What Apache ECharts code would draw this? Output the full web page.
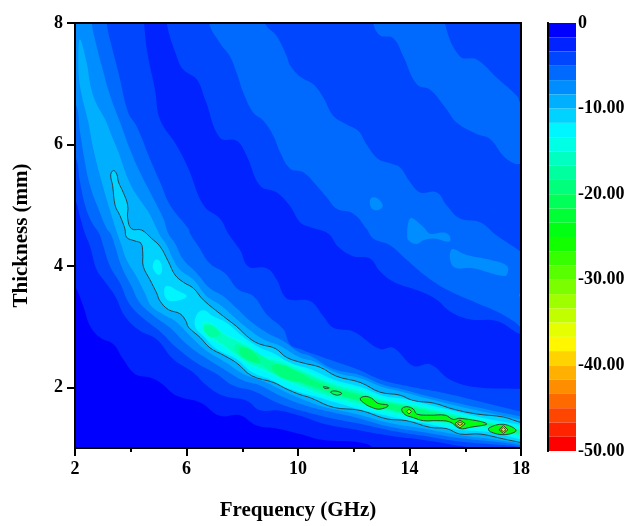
<!DOCTYPE html>
<html><head><meta charset="utf-8">
<script src="https://cdn.jsdelivr.net/npm/echarts@6/dist/echarts.min.js"></script>
<style>html,body{margin:0;padding:0;background:#fff}#c{width:638px;height:526px}</style>
</head><body><div id="c"></div>
<script>
// Contour level edges of the colour scale (dB)
const levels=[0,-1.67,-3.33,-5,-6.67,-8.33,-10,-11.67,-13.33,-15,-16.67,-18.33,-20,-21.67,-23.33,-25,-26.67,-28.33,-30,-31.67,-33.33,-35,-36.67,-38.33,-40,-41.67,-43.33,-45,-46.67,-48.33,-50];
const colorTicks=[0,-10,-20,-30,-40,-50];
const xMajor=[2,6,10,14,18];
const xMinor=[4,8,12,16];
const yMajor=[2,4,6,8];

// Contour outlines: [frequency GHz, thickness mm]
const regionBase=[[1,0],[19,0],[19,9],[1,9]];
const region0=[[2,3.66],[2.3,3.33],[2.54,3.01],[2.9,2.82],[3.38,2.71],[3.73,2.46],[4.15,2.22],[4.69,2.16],[5.05,2.08],[5.65,1.86],[6.49,1.75],[7.2,1.53],[7.92,1.54],[8.52,1.37],[9.24,1.32],[10.07,1.23],[10.91,1.13],[12.1,1.1],[12.7,1],[13.2,.6],[1.4,.4],[1.4,4]];
const region2a=[[1.4,5.4],[2,5.08],[2.18,4.81],[2.36,4.53],[2.54,4.32],[2.78,3.93],[3.02,3.77],[3.44,3.5],[3.79,3.17],[4.33,2.93],[4.93,2.79],[5.53,2.46],[6.25,2.24],[6.72,2.03],[7.32,1.86],[8.16,1.78],[8.64,1.62],[9.24,1.62],[10.07,1.53],[10.91,1.4],[12.1,1.3],[13.3,1.2],[14.5,1.13],[15.7,1.04],[16.1,1],[17,.7],[18.6,.5],[18.6,1.9],[18,1.97],[16.41,2],[15.45,2.13],[14.74,2.38],[14.14,2.35],[13.42,2.65],[12.94,2.63],[11.98,2.92],[11.27,2.98],[10.91,3.17],[10.43,3.42],[9.71,3.44],[9.48,3.52],[9.24,3.77],[8.88,3.96],[8.22,3.99],[7.92,4.26],[7.5,4.53],[7.2,4.78],[6.61,5],[6.07,5.6],[5.65,5.98],[5.05,6.41],[4.87,6.9],[4.6,7.5],[4.48,8],[4.4,8.6],[1.4,8.6]];
const region2b=[[5.2,8.6],[5.29,8],[5.65,7.45],[5.89,7.23],[6.37,7.07],[6.67,6.74],[7.2,6.11],[7.8,6.06],[8.16,5.81],[8.64,5.32],[9.24,5.21],[9.72,4.98],[10.07,4.72],[10.43,4.64],[11.09,4.53],[11.45,4.31],[11.98,4.16],[12.58,4.12],[12.94,3.91],[13.42,3.74],[14.38,3.58],[14.98,3.44],[15.45,3.25],[16.17,3.12],[17.13,3.09],[17.85,2.9],[18,2.87],[18.6,2.6],[18.6,8.6]];
const region3a=[[1.4,6.1],[2,5.81],[2.18,5.38],[2.36,5],[2.6,4.72],[2.87,4.53],[3.02,4.32],[3.26,3.99],[3.61,3.72],[3.97,3.36],[4.57,3.09],[5.05,2.92],[5.65,2.65],[6.37,2.4],[7.08,2.22],[7.68,2.03],[8.4,1.94],[9.24,1.75],[10.07,1.62],[10.91,1.52],[12.1,1.41],[13.3,1.29],[14.5,1.2],[15.7,1.11],[16.9,1.06],[18,1.01],[18.6,.9],[18.6,1.55],[18,1.6],[16.41,1.78],[15.1,1.92],[14.02,2.01],[13.06,2.11],[12.1,2.3],[10.91,2.49],[10.07,2.63],[9.71,2.71],[9.48,2.95],[8.88,3.2],[8.4,3.5],[7.86,3.61],[7.38,3.88],[6.84,4.04],[6.43,4.32],[6.13,4.53],[6.07,4.61],[5.41,5],[5.05,5.38],[4.69,5.76],[4.21,6.3],[3.91,6.52],[3.56,7.18],[3.26,7.72],[3.14,8],[3.1,8.6],[1.4,8.6]];
const region3b=[[6.7,8.6],[6.81,8],[7.2,7.67],[7.56,7.45],[7.8,7.18],[8.04,6.85],[8.4,6.52],[8.76,6.39],[9.12,6.14],[9.36,5.87],[9.72,5.6],[10.19,5.54],[10.67,5.32],[11.03,5.13],[11.39,4.94],[11.99,4.86],[12.46,4.61],[12.7,4.45],[13.3,4.34],[13.9,4.1],[14.62,3.82],[15.33,3.61],[16.41,3.39],[17.13,3.25],[17.73,3.09],[18,2.98],[18.6,2.7],[18.6,4],[18,4.23],[17.13,4.5],[16.53,4.72],[15.81,4.78],[15.33,5],[14.98,5.21],[14.38,5.21],[14.02,5.38],[13.66,5.62],[13.3,5.69],[12.88,5.76],[12.46,6],[12.17,6.22],[11.75,6.33],[11.27,6.47],[10.91,6.77],[10.55,6.99],[10.07,7.12],[9.71,7.31],[9.6,7.45],[9.24,7.78],[8.82,8],[8.7,8.6]];
const region3c=[[12.6,8.6],[12.7,8],[12.94,7.8],[13.42,7.75],[13.78,7.45],[14.26,6.99],[14.74,6.9],[15.33,6.58],[15.69,6.36],[16.41,6.17],[16.89,6.09],[17.37,5.81],[17.79,5.68],[18,5.68],[18.6,5.68],[18.6,6.4],[18,6.66],[17.85,6.8],[17.13,7.1],[16.41,7.4],[15.81,7.45],[15.27,8],[15.2,8.6]];
const patch4a=[[12.58,5.08],[12.7,5.13],[12.88,5.1],[13.04,4.99],[12.88,4.92],[12.64,4.95]];
const patch4b=[[13.96,4.72],[14.08,4.79],[14.5,4.64],[14.74,4.53],[15.21,4.55],[15.43,4.5],[15.43,4.4],[14.86,4.45],[14.5,4.42],[14.26,4.36],[13.96,4.42],[13.92,4.53]];
const patch4c=[[15.51,4.27],[16.05,4.18],[16.89,4.1],[17.49,4],[17.49,3.85],[17.25,3.84],[16.29,3.96],[15.57,3.99]];
const patch4d=[[17.93,3.52],[18.2,3.6],[18.2,3.42]];
const region4=[[1.4,6.95],[2,6.69],[2.18,6.2],[2.36,5.7],[2.54,5.32],[2.84,4.94],[3.14,4.61],[3.28,4.53],[3.44,4.32],[3.67,3.99],[4.03,3.66],[4.33,3.39],[4.93,3.14],[5.41,2.98],[6.01,2.71],[6.67,2.49],[7.44,2.27],[8.04,2.11],[8.64,2.03],[9.36,1.86],[10.07,1.73],[10.91,1.62],[12.1,1.5],[13.3,1.35],[14.5,1.26],[15.7,1.17],[16.9,1.11],[18,1.04],[18.6,.95],[18.6,1.48],[18,1.52],[16.41,1.67],[14.86,1.83],[13.78,1.96],[13.06,2.04],[12.23,2.2],[11.27,2.3],[10.43,2.52],[10.07,2.57],[9.48,2.76],[8.88,2.9],[8.28,3.09],[7.8,3.3],[7.32,3.5],[6.84,3.63],[6.37,3.88],[5.89,4.1],[5.59,4.37],[5.35,4.53],[5.17,4.78],[4.81,5.11],[4.33,5.54],[3.97,5.92],[3.67,6.3],[3.26,6.8],[2.96,7.29],[2.78,7.61],[2.6,8],[2.5,8.6],[1.4,8.6]];
const region5=[[2.18,7.73],[2.12,7.4],[2.18,6.96],[2.48,6.36],[2.66,5.92],[2.96,5.38],[3.2,5],[3.52,4.53],[3.67,4.34],[3.85,4.1],[4.21,3.82],[4.51,3.55],[4.75,3.33],[5.17,3.2],[5.59,3.09],[6.19,2.82],[6.72,2.6],[7.44,2.4],[8.04,2.22],[8.76,2.1],[9.48,1.94],[10.07,1.82],[10.91,1.68],[12.1,1.56],[13.3,1.41],[14.5,1.32],[15.7,1.22],[16.9,1.15],[18,1.07],[18.6,1],[18.6,1.43],[18,1.47],[16.41,1.62],[14.86,1.79],[13.78,1.92],[13.06,2],[12.23,2.15],[11.39,2.24],[10.55,2.43],[10.07,2.49],[9.36,2.68],[8.76,2.79],[8.16,2.98],[7.68,3.17],[7.2,3.36],[6.72,3.5],[6.25,3.77],[5.77,3.93],[5.53,4.1],[5.29,4.34],[5.05,4.5],[4.87,4.67],[4.63,4.89],[4.15,5.21],[3.85,5.49],[3.56,5.87],[3.32,6.14],[3.08,6.41],[2.75,6.69],[2.56,6.96],[2.42,7.34]];
const region6=[[3.38,5.57],[3.28,5.5],[3.35,5.32],[3.44,4.995],[3.61,4.83],[3.79,4.61],[3.85,4.47],[4.15,4.41],[4.37,4.37],[4.43,4.21],[4.45,3.99],[4.69,3.77],[4.93,3.55],[5.05,3.42],[5.35,3.28],[5.77,3.21],[5.98,3.09],[6.07,2.99],[6.49,2.82],[6.84,2.65],[7.32,2.53],[7.8,2.4],[8.34,2.19],[9.12,2.08],[9.6,1.97],[10.07,1.88],[10.43,1.83],[11.27,1.67],[12.23,1.62],[13.18,1.48],[13.9,1.45],[14.74,1.34],[15.33,1.32],[15.81,1.23],[16.53,1.23],[17.37,1.15],[18,1.09],[18.6,1.04],[18.6,1.38],[18,1.42],[17.37,1.51],[16.41,1.56],[15.57,1.64],[14.86,1.74],[14.14,1.78],[13.66,1.87],[12.94,1.92],[12.23,2.08],[11.39,2.18],[10.79,2.33],[10.19,2.4],[9.6,2.49],[9.18,2.64],[8.64,2.71],[8.28,2.8],[7.8,3],[7.32,3.17],[6.6,3.44],[6.25,3.63],[5.89,3.73],[5.59,3.85],[5.35,4.07],[5.05,4.32],[4.75,4.45],[4.39,4.59],[4.03,4.61],[3.89,4.78],[3.89,5],[3.73,5.21],[3.56,5.38],[3.5,5.51]];
const patch7a=[[4.79,4],[4.89,4.1],[5.05,4.07],[5.12,3.91],[4.99,3.85],[4.83,3.93]];
const patch7b=[[5.21,3.63],[5.35,3.67],[5.65,3.6],[6.01,3.5],[5.59,3.42],[5.27,3.46]];
const region7=[[6.31,3],[6.37,3.2],[6.61,3.27],[6.96,3.17],[7.44,3.06],[8.04,2.83],[8.64,2.65],[9.12,2.56],[9.71,2.4],[10.43,2.3],[11.27,2.13],[12.23,2.01],[13.06,1.86],[13.78,1.81],[14.86,1.69],[16.41,1.52],[18,1.38],[18.6,1.33],[18.6,1.09],[18,1.14],[16.89,1.26],[15.7,1.3],[14.5,1.41],[13.3,1.52],[12.1,1.65],[10.91,1.81],[9.71,1.97],[9,2.13],[8.34,2.25],[7.8,2.46],[7.08,2.63],[6.61,2.84]];
const region8=[[6.55,3.06],[6.84,3.07],[7.32,2.9],[7.68,2.82],[8.16,2.73],[8.64,2.54],[9.24,2.49],[10.07,2.33],[10.43,2.25],[11.27,2.09],[12.23,1.97],[13.06,1.82],[13.78,1.76],[14.86,1.65],[16.41,1.49],[18,1.34],[18.6,1.3],[18.6,1.13],[18,1.18],[16.89,1.3],[15.7,1.34],[14.5,1.45],[13.3,1.56],[12.1,1.7],[10.91,1.85],[10.07,2],[9.48,2.1],[8.88,2.24],[8.28,2.35],[7.68,2.54],[7.08,2.73],[6.72,2.84]];
const region9=[[6.61,3.03],[6.9,3.03],[7.44,2.84],[7.8,2.76],[8.28,2.65],[8.76,2.49],[9.24,2.43],[10.07,2.29],[10.43,2.21],[11.27,2.05],[12.23,1.93],[13.06,1.79],[13.78,1.73],[14.86,1.63],[16.41,1.47],[18,1.31],[18.6,1.27],[18.6,1.16],[18,1.2],[16.89,1.33],[15.7,1.38],[14.5,1.48],[13.3,1.6],[12.1,1.74],[10.91,1.89],[10.07,2.03],[9.36,2.16],[8.76,2.3],[8.28,2.39],[7.68,2.58],[7.08,2.78],[6.72,2.87]];
const region10a=[[7.8,2.71],[8.4,2.6],[9.12,2.41],[10.07,2.25],[10.43,2.18],[11.27,2.02],[12.23,1.89],[13.06,1.77],[13.78,1.71],[14.86,1.6],[16.41,1.45],[18,1.29],[18.6,1.25],[18.6,1.2],[18,1.23],[16.89,1.35],[15.7,1.41],[14.5,1.5],[13.3,1.63],[12.1,1.78],[10.91,1.93],[10.07,2.07],[9.24,2.21],[8.64,2.38],[8.16,2.46],[7.74,2.6]];
const region10b=[[6.61,2.98],[6.9,3.02],[7.2,2.87],[6.84,2.84]];
const region11a=[[9.06,2.35],[9.36,2.38],[10.07,2.24],[10.43,2.14],[11.27,1.99],[12.23,1.87],[13.06,1.76],[13.78,1.69],[14.86,1.59],[16.41,1.43],[17.85,1.31],[17.85,1.26],[16.89,1.37],[15.7,1.43],[14.5,1.52],[13.3,1.64],[12.1,1.79],[10.91,1.96],[10.07,2.09],[9.6,2.13],[9.18,2.24]];
const region11b=[[7.92,2.65],[8.28,2.62],[8.64,2.43],[8.4,2.41],[7.98,2.52]];
const island1=[[10.91,2.01],[11.12,1.99],[10.97,1.98]];
const island2=[[11.17,1.92],[11.33,1.94],[11.57,1.9],[11.39,1.87]];
const island3=[[12.23,1.81],[12.4,1.85],[12.64,1.82],[12.85,1.74],[13.24,1.7],[12.94,1.64],[12.64,1.67],[12.4,1.73]];
const island4=[[13.72,1.64],[13.9,1.68],[14.14,1.64],[14.26,1.56],[14.74,1.54],[15.28,1.54],[15.57,1.47],[15.81,1.49],[16.77,1.4],[16.17,1.34],[15.81,1.32],[15.45,1.43],[14.98,1.45],[14.5,1.45],[14.14,1.5],[13.84,1.55]];
const island5=[[16.85,1.33],[17.37,1.39],[17.82,1.29],[17.43,1.22],[16.89,1.27]];
const ring1=[[13.9,1.6],[13.98,1.64],[14.07,1.6],[13.98,1.56]];
const ring2=[[15.63,1.4],[15.81,1.46],[16,1.4],[15.81,1.33]];
const ring2i=[[15.72,1.4],[15.81,1.43],[15.91,1.4],[15.81,1.37]];
const ring3=[[17.21,1.3],[17.37,1.37],[17.53,1.3],[17.37,1.24]];
const ring3i=[[17.27,1.3],[17.37,1.34],[17.46,1.3],[17.37,1.27]];

function bandColor(i){
  const t=i/29*4,s=Math.floor(Math.min(t,3.999)),f=t-s;
  const c=[[0,255*f,255],[0,255,255*(1-f)],[255*f,255,0],[255,255*(1-f),0]][s];
  return 'rgb('+c.map(Math.round).join(',')+')';
}
const SM=0.4;
const layers=[
 [regionBase,1,0,0],[region0,0,SM,0],[region2a,2,SM,0],[region2b,2,SM,0],[region3a,3,SM,0],[region3b,3,SM,0],[region3c,3,SM,0],
 [patch4a,4,SM,0],[patch4b,4,SM,0],[patch4c,4,SM,0],[patch4d,4,SM,0],[region4,4,SM,0],[region5,5,SM,0],[region6,6,SM,1],
 [patch7a,7,SM,0],[patch7b,7,SM,0],[region7,7,SM,0],[region8,8,SM,0],[region9,9,SM,0],[region10a,10,SM,0],[region10b,10,SM,0],
 [region11a,11,SM,0],[region11b,11,SM,0],[island1,12,SM,1],[island2,12,SM,1],[island3,14,SM,1],[island4,14,SM,1],[island5,14,SM,1],
 [ring1,19,0,1],[ring2,19,0,1],[ring2i,23,0,1],[ring3,19,0,1],[ring3i,23,0,1]
];
const serif='"Liberation Serif"';
const axisLine={lineStyle:{color:'#000',width:2}};
const chart=echarts.init(document.getElementById('c'),null,{renderer:'canvas'});
const bandData=levels.slice(0,-1).map((v,i)=>[v,levels[i+1],i]);
chart.setOption({
 animation:false,
 backgroundColor:'#fff',
 grid:[{left:75,top:23,width:446,height:428},{left:548,top:23,width:28,height:428}],
 xAxis:[
  {gridIndex:0,type:'value',min:2,max:18,position:'bottom',z:5,name:'Frequency (GHz)',nameLocation:'middle',nameGap:52,
   nameTextStyle:{fontFamily:serif,fontWeight:'bold',fontSize:21,color:'#000'},
   axisLine,splitLine:{show:false},
   axisTick:{show:true,length:8,customValues:xMajor,lineStyle:{color:'#000',width:2}},
   axisLabel:{customValues:xMajor,fontFamily:serif,fontWeight:'bold',fontSize:18,color:'#000',margin:12}},
  {gridIndex:0,type:'value',min:2,max:18,position:'bottom',z:5,
   axisLine:{show:false},splitLine:{show:false},
   axisTick:{show:true,length:4,customValues:xMinor,lineStyle:{color:'#000',width:2}},
   axisLabel:{show:false}},
  {gridIndex:0,type:'value',min:2,max:18,position:'top',z:5,axisLine,axisTick:{show:false},axisLabel:{show:false},splitLine:{show:false}},
  {gridIndex:1,type:'value',min:0,max:1,show:false}
 ],
 yAxis:[
  {gridIndex:0,type:'value',min:1,max:8,position:'left',z:5,name:'Thickness (mm)',nameLocation:'middle',nameGap:43,
   nameTextStyle:{fontFamily:serif,fontWeight:'bold',fontSize:21,color:'#000'},
   axisLine,splitLine:{show:false},
   axisTick:{show:true,length:8,customValues:yMajor,lineStyle:{color:'#000',width:2}},
   axisLabel:{customValues:yMajor,fontFamily:serif,fontWeight:'bold',fontSize:18,color:'#000',margin:12}},
  {gridIndex:0,type:'value',min:1,max:8,position:'right',z:5,axisLine,axisTick:{show:false},axisLabel:{show:false},splitLine:{show:false}},
  {gridIndex:1,type:'value',min:-50,max:0,interval:10,position:'right',z:5,
   axisLine,axisTick:{show:false},splitLine:{show:false},
   axisLabel:{fontFamily:serif,fontWeight:'bold',fontSize:18,color:'#000',margin:2,formatter:v=>v===0?'0':v.toFixed(2)}},
  {gridIndex:1,type:'value',min:-50,max:0,position:'left',z:5,axisLine,axisTick:{show:false},axisLabel:{show:false},splitLine:{show:false}}
 ],
 series:[
  {type:'custom',xAxisIndex:0,yAxisIndex:0,clip:true,silent:true,coordinateSystem:'cartesian2d',
   data:layers.map((l,i)=>[i]),
   renderItem:(p,api)=>{
     const l=layers[api.value(0)];
     return {type:'polygon',
       shape:{points:l[0].map(q=>api.coord(q)),smooth:l[2]},
       style:{fill:bandColor(l[1]),stroke:l[3]?'#333':null,lineWidth:l[3]?0.9:0}};
   }},
  {type:'custom',xAxisIndex:3,yAxisIndex:2,clip:true,silent:true,coordinateSystem:'cartesian2d',
   data:bandData,
   renderItem:(p,api)=>{
     const a=api.coord([0,api.value(0)]),b=api.coord([1,api.value(1)]);
     return {type:'rect',shape:{x:a[0],y:a[1],width:b[0]-a[0],height:b[1]-a[1]},style:{fill:bandColor(api.value(2))}};
   }}
 ]
});
</script></body></html>
